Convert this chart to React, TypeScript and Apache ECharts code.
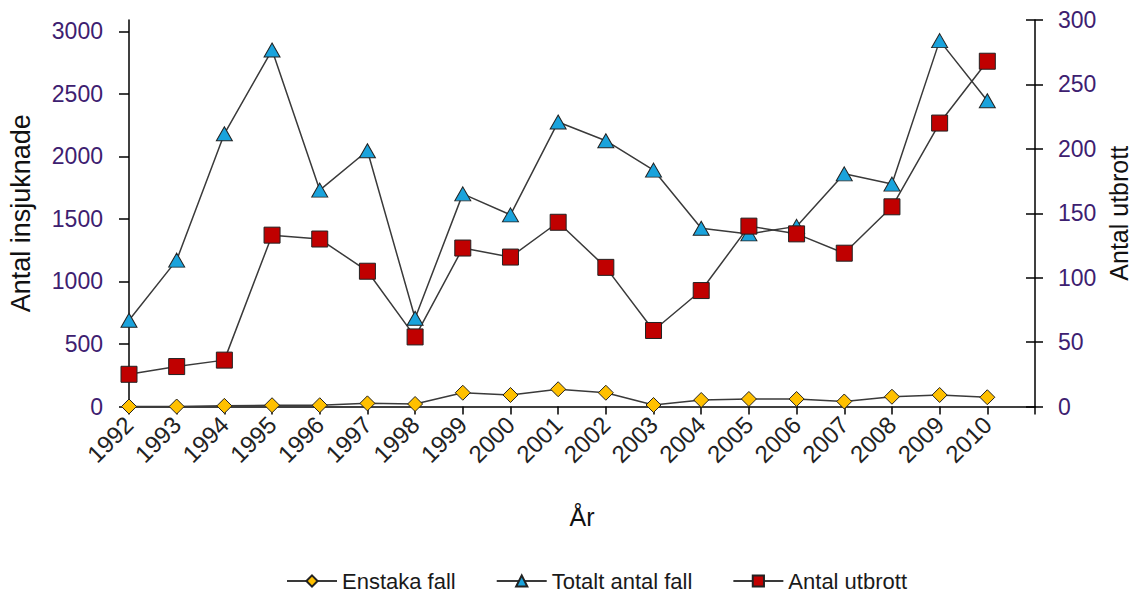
import React, { useEffect, useRef } from "react";
import * as echarts from "echarts";

const years = ["1992","1993","1994","1995","1996","1997","1998","1999","2000","2001","2002","2003","2004","2005","2006","2007","2008","2009","2010",""];
const enstakaFall = [0, 0, 5, 10, 10, 25, 20, 110, 92, 138, 110, 12, 52, 60, 60, 40, 78, 92, 74];
const totaltAntalFall = [690, 1170, 2180, 2850, 1730, 2045, 705, 1700, 1532, 2275, 2125, 1890, 1425, 1380, 1440, 1860, 1778, 2925, 2445];
const antalUtbrott = [25, 31, 36, 133, 130, 105, 54, 123, 116, 143, 108, 59, 90, 140, 134, 119, 155, 220, 268];
const leftTicks = [0, 500, 1000, 1500, 2000, 2500, 3000];

const FONT = "'Liberation Sans', Arial, sans-serif";

export default function App() {
  const ref = useRef<HTMLDivElement>(null);
  useEffect(() => {
    if (!ref.current) return;
    const chart = echarts.init(ref.current, undefined, { renderer: "svg" });
    const lineStyle = { color: "#3a3a3a", width: 1.5 };
    const plain = (v: number) => String(v);
    chart.setOption({
      animation: false,
      textStyle: { fontFamily: FONT },
      grid: { left: 129, right: 97, top: 20, bottom: 193.5, containLabel: false, outerBoundsMode: "none" },
      legend: {
        bottom: 3,
        left: 281,
        itemWidth: 50,
        itemHeight: 14,
        itemGap: 40,
        textStyle: { fontSize: 22, color: "#1a1a1a", fontFamily: FONT },
        data: ["Enstaka fall", "Totalt antal fall", "Antal utbrott"],
      },
      xAxis: {
        type: "category",
        data: years,
        boundaryGap: false,
        name: "År",
        nameLocation: "middle",
        nameGap: 98,
        nameMoveOverlap: false,
        nameTextStyle: { fontSize: 25, color: "#111", fontFamily: FONT },
        axisLine: { lineStyle: { color: "#000", width: 1.5 } },
        axisTick: { show: true, length: 8, interval: 0, lineStyle: { color: "#000", width: 1.5 } },
        axisLabel: { rotate: 45, interval: 0, fontSize: 24, color: "#222", margin: 14, fontFamily: FONT },
        splitLine: { show: false },
      },
      yAxis: [
        {
          type: "value",
          position: "left",
          min: 0,
          max: 3090,
          name: "Antal insjuknade",
          nameLocation: "middle",
          nameRotate: 90,
          nameGap: 95,
          nameMoveOverlap: false,
          nameTextStyle: { fontSize: 27, color: "#111", fontFamily: FONT },
          axisLine: { show: true, lineStyle: { color: "#000", width: 1.5 } },
          axisTick: { show: true, length: 10, customValues: leftTicks, lineStyle: { color: "#000", width: 1.5 } },
          axisLabel: { customValues: leftTicks, formatter: plain, fontSize: 23, color: "#3d2070", margin: 26, fontFamily: FONT },
          splitLine: { show: false },
        },
        {
          type: "value",
          position: "right",
          min: 0,
          max: 300,
          interval: 50,
          name: "Antal utbrott",
          nameLocation: "middle",
          nameRotate: 90,
          nameGap: 71,
          nameMoveOverlap: false,
          nameTextStyle: { fontSize: 25, color: "#111", fontFamily: FONT },
          axisLine: { show: true, lineStyle: { color: "#000", width: 1.5 } },
          axisTick: { show: true, length: 8, lineStyle: { color: "#000", width: 1.5 } },
          axisLabel: { formatter: plain, fontSize: 23, color: "#3d2070", margin: 23, fontFamily: FONT },
          splitLine: { show: false },
        },
        {
          type: "value",
          position: "right",
          offset: 0,
          min: 0,
          max: 300,
          interval: 50,
          axisLine: { show: false },
          axisTick: { show: true, inside: true, length: 9, lineStyle: { color: "#000", width: 1.5 } },
          axisLabel: { show: false },
          splitLine: { show: false },
        },
      ],
      series: [
        {
          name: "Enstaka fall",
          type: "line",
          yAxisIndex: 0,
          data: enstakaFall,
          symbol: "diamond",
          symbolSize: [15, 15],
          lineStyle,
          itemStyle: { color: "#FFC000", borderColor: "#222", borderWidth: 1 },
        },
        {
          name: "Totalt antal fall",
          type: "line",
          yAxisIndex: 0,
          data: totaltAntalFall,
          symbol: "triangle",
          symbolSize: [16, 14],
          lineStyle,
          itemStyle: { color: "#1aa3dc", borderColor: "#222", borderWidth: 1 },
        },
        {
          name: "Antal utbrott",
          type: "line",
          yAxisIndex: 1,
          data: antalUtbrott,
          symbol: "rect",
          symbolSize: 16,
          lineStyle,
          itemStyle: { color: "#C00000", borderColor: "#222", borderWidth: 1 },
        },
      ],
    });
    return () => chart.dispose();
  }, []);
  return (
    <div
      ref={ref}
      style={{ position: "absolute", left: 0, top: 0, width: 1132, height: 600, background: "#fff" }}
    />
  );
}
